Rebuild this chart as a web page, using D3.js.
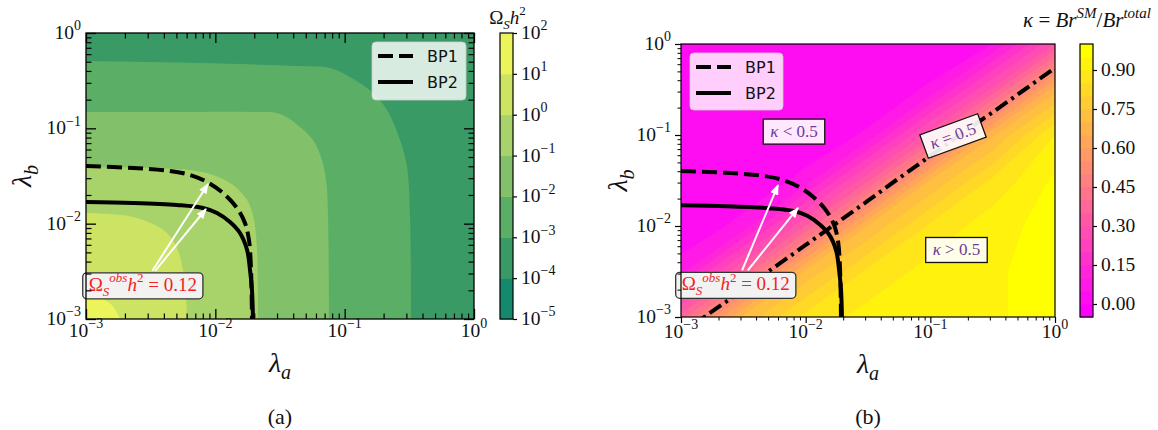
<!DOCTYPE html>
<html>
<head>
<meta charset="utf-8">
<script src="https://cdn.jsdelivr.net/npm/d3@7"></script>
<style>
  html, body { margin: 0; padding: 0; background: #ffffff; }
  svg { display: block; }
  text { font-family: "Liberation Serif", "DejaVu Serif", serif; fill: #111; }
  .legend-text { font-family: "DejaVu Sans", sans-serif; fill: #111; }
</style>
</head>
<body>
<svg id="figure" width="1158" height="430"></svg>
<script>
// ---------------- data ----------------
// coupling axes (both panels)
const lambdaTicks = [1e-3, 1e-2, 1e-1, 1e0];
const lambdaTickExponents = ["\u22123", "\u22122", "\u22121", "0"];
const lambdaMinorTicks = lambdaTicks.slice(0, -1).flatMap(d => [2, 3, 4, 5, 6, 7, 8, 9].map(k => k * d));

// (a) relic density Omega_S h^2: filled contour levels and band colours
const omegaLevels = [1e-5, 1e-4, 1e-3, 1e-2, 1e-1, 1e0, 1e1, 1e2];
const omegaLevelExponents = ["\u22125", "\u22124", "\u22123", "\u22122", "\u22121", "0", "1", "2"];
const omegaBandColors = ["#14896b", "#3a9a66", "#5bae66", "#82c16a", "#a8d36a", "#cde364", "#ecf45c"];

// iso-lines Omega_S h^2 = level, as [lambda_a, lambda_b] from the left edge to the bottom edge
const omegaIso1e_3 = [[0.001, 0.5085], [0.0076, 0.4844], [0.0452, 0.4508], [0.077, 0.4295], [0.110, 0.3454],
  [0.1656, 0.2349], [0.2124, 0.1556], [0.268, 0.0755], [0.3034, 0.0393], [0.320, 0.0123], [0.326, 0.001]];
const omegaIso1e_2 = [[0.001, 0.1484], [0.0076, 0.1484], [0.0185, 0.148], [0.0316, 0.1413], [0.0452, 0.1033],
  [0.0569, 0.0755], [0.0656, 0.050], [0.0718, 0.0287], [0.0743, 0.0123], [0.0757, 0.001]];
const omegaIso1e_1 = [[0.001, 0.0393], [0.00313, 0.0384], [0.00637, 0.0365], [0.0096, 0.0324], [0.0137, 0.0255],
  [0.0176, 0.0177], [0.0199, 0.0109], [0.0210, 0.0053], [0.0214, 0.001]];
const omegaIso1e0 = [[0.001, 0.01294], [0.00153, 0.0126], [0.00231, 0.01175], [0.0033, 0.0099], [0.00423, 0.00798],
  [0.00506, 0.00556], [0.00562, 0.00327], [0.00593, 0.00179], [0.00604, 0.001]];
const omegaIso1e1 = [[0.001, 0.0017], [0.00128, 0.00166], [0.00153, 0.00147], [0.00174, 0.00116], [0.00183, 0.001]];

// benchmark curves Omega_S h^2 = 0.12
const bp1Curve = [[0.001, 0.0403], [0.00231, 0.0384], [0.00446, 0.0357], [0.00637, 0.0324], [0.00862, 0.0274],
  [0.01146, 0.0210], [0.01471, 0.0146], [0.01695, 0.01016], [0.0182, 0.00674], [0.01888, 0.00327], [0.0192, 0.001]];
const bp2Curve = [[0.001, 0.01687], [0.00231, 0.0165], [0.00505, 0.0157], [0.00803, 0.0146], [0.0103, 0.01294],
  [0.01298, 0.0104], [0.0155, 0.00798], [0.0176, 0.0053], [0.01854, 0.00327], [0.0192, 0.00201], [0.01955, 0.001]];

// (b) kappa = Br^SM / Br^total on a grid (rows: lambda_b from 1 down to 1e-3)
const kappaLambdaA = [0.001, 0.00316, 0.01, 0.0316, 0.1, 0.316, 1];
const kappaLambdaB = [1, 0.316, 0.1, 0.0316, 0.01, 0.00316, 0.001];
const kappaGrid = [
  [0.00, 0.00, 0.00, 0.00, 0.00, 0.05, 0.30],
  [0.00, 0.00, 0.00, 0.00, 0.06, 0.31, 0.68],
  [0.00, 0.00, 0.00, 0.06, 0.33, 0.69, 0.90],
  [0.00, 0.00, 0.07, 0.34, 0.70, 0.86, 0.96],
  [0.00, 0.07, 0.35, 0.70, 0.86, 0.93, 0.97],
  [0.08, 0.36, 0.71, 0.86, 0.92, 0.94, 0.98],
  [0.375, 0.71, 0.865, 0.92, 0.92, 0.94, 0.98]
];
const kappaLevels = [-0.05, 0, 0.05, 0.1, 0.15, 0.2, 0.25, 0.3, 0.35, 0.4, 0.45, 0.5,
  0.55, 0.6, 0.65, 0.7, 0.75, 0.8, 0.85, 0.9, 0.95, 1.0];
const kappaTicks = [0, 0.15, 0.30, 0.45, 0.60, 0.75, 0.90];
const kappaBoundary = 0.5;

// ---------------- layout ----------------
const panelA = { x0: 86, x1: 474, y0: 33, y1: 319 };
const panelB = { x0: 681, x1: 1055, y0: 44, y1: 317 };
const cbarA = { x0: 500, x1: 513, y0: 33, y1: 319 };
const cbarB = { x0: 1080, x1: 1093, y0: 44, y1: 317 };
const tickFont = 19.5;

const svg = d3.select("#figure");
const defs = svg.append("defs");

function addClip(id, p) {
  defs.append("clipPath").attr("id", id).append("rect")
    .attr("x", p.x0).attr("y", p.y0).attr("width", p.x1 - p.x0).attr("height", p.y1 - p.y0);
}
addClip("clipA", panelA);
addClip("clipB", panelB);

defs.append("marker").attr("id", "arrowHead")
  .attr("viewBox", "0 0 10 8").attr("refX", 9).attr("refY", 4)
  .attr("markerWidth", 11).attr("markerHeight", 8.5)
  .attr("markerUnits", "userSpaceOnUse").attr("orient", "auto")
  .append("path").attr("d", "M0,0L10,4L0,8Z").attr("fill", "#fff");

// text with sub/superscript runs: parts = [[string, "n"|"sub"|"sup", italic]]
function richText(sel, parts, size) {
  let shift = 0;
  parts.forEach(([str, kind, italic]) => {
    const target = kind === "sup" ? -0.45 * size : kind === "sub" ? 0.25 * size : 0;
    sel.append("tspan")
      .attr("dy", (target - shift).toFixed(2))
      .attr("font-size", kind === "n" ? size : Math.round(size * 0.7))
      .attr("font-style", italic ? "italic" : "normal")
      .text(str);
    shift = target;
  });
  return sel;
}

function tickMarks(g, scale, orient, values, len, width) {
  const make = { top: d3.axisTop, bottom: d3.axisBottom, left: d3.axisLeft, right: d3.axisRight }[orient];
  const a = g.append("g").call(make(scale).tickValues(values).tickSize(len).tickFormat(""));
  a.select(".domain").remove();
  a.selectAll("text").remove();
  a.selectAll("line").attr("stroke", "#000").attr("stroke-width", width);
  return a;
}

function powerLabel(g, x, y, exp, anchor) {
  const t = g.append("text").attr("x", x).attr("y", y).attr("text-anchor", anchor).attr("font-size", tickFont);
  richText(t, [["10", "n"], [exp, "sup"]], tickFont);
}

const curveLine = (xs, ys) => d3.line().x(d => xs(d[0])).y(d => ys(d[1])).curve(d3.curveCatmullRom.alpha(0.5));

function drawBenchmarks(g, xs, ys) {
  const ln = curveLine(xs, ys);
  g.append("path").attr("d", ln(bp1Curve)).attr("fill", "none").attr("stroke", "#000")
    .attr("stroke-width", 4).attr("stroke-dasharray", "15,6");
  g.append("path").attr("d", ln(bp2Curve)).attr("fill", "none").attr("stroke", "#000")
    .attr("stroke-width", 4);
}

function drawLegend(g, box) {
  g.append("rect").attr("x", box.x).attr("y", box.y).attr("width", box.w).attr("height", box.h)
    .attr("rx", 4).attr("fill", "#fff").attr("fill-opacity", 0.8)
    .attr("stroke", "#ccc").attr("stroke-opacity", 0.8).attr("stroke-width", 1);
  const entries = [["BP1", "15,6"], ["BP2", null]];
  entries.forEach(([name, dash], i) => {
    const yLine = box.y + 14 + i * 26;
    const l = g.append("line").attr("x1", box.x + 6).attr("x2", box.x + 41)
      .attr("y1", yLine).attr("y2", yLine).attr("stroke", "#000").attr("stroke-width", 4);
    if (dash) l.attr("stroke-dasharray", dash);
    g.append("text").attr("class", "legend-text").attr("x", box.x + 55).attr("y", yLine + 6)
      .attr("font-size", 16).text(name);
  });
}

// annotation box with two arrows pointing at the benchmark curves
function drawRelicNote(g, xs, ys, centre, tips) {
  const cx = xs(centre[0]), cy = ys(centre[1]);
  const note = g.append("g");
  const box = note.append("rect");
  const t = note.append("text").attr("x", cx).attr("y", cy + 5).attr("text-anchor", "middle")
    .attr("font-size", 19).style("fill", "#f22222");
  richText(t, [["\u03a9", "n"], ["S", "sub", true], ["obs", "sup", true], ["h", "n", true],
    ["2", "sup"], [" = 0.12", "n"]], 19);
  t.selectAll("tspan").style("fill", "#f22222");
  const bb = t.node().getBBox();
  const bw = bb.width + 12, bh = 26;
  box.attr("x", cx - bw / 2).attr("y", cy - bh / 2).attr("width", bw).attr("height", bh)
    .attr("rx", 4).attr("fill", "#f2f2f2").attr("stroke", "#333").attr("stroke-width", 1.3);
  tips.forEach(tp => {
    const tx = xs(tp[0]), ty = ys(tp[1]);
    const dx = tx - cx, dy = ty - cy;
    const s = Math.min(Math.abs((bh / 2 + 2) / dy), Math.abs((bw / 2 + 2) / dx));
    note.append("line").attr("x1", cx + dx * s).attr("y1", cy + dy * s).attr("x2", tx).attr("y2", ty)
      .attr("stroke", "#fff").attr("stroke-width", 2).attr("marker-end", "url(#arrowHead)");
  });
}

// ================= panel (a) =================
const xa = d3.scaleLog().domain([1e-3, 1]).range([panelA.x0, panelA.x1]);
const ya = d3.scaleLog().domain([1e-3, 1]).range([panelA.y1, panelA.y0]);
const gA = svg.append("g");
const plotA = gA.append("g").attr("clip-path", "url(#clipA)");

plotA.append("rect").attr("x", panelA.x0).attr("y", panelA.y0)
  .attr("width", panelA.x1 - panelA.x0).attr("height", panelA.y1 - panelA.y0)
  .attr("fill", omegaBandColors[1]);
[omegaIso1e_3, omegaIso1e_2, omegaIso1e_1, omegaIso1e0, omegaIso1e1].forEach((iso, i) => {
  const d = curveLine(xa, ya)(iso) + `L${xa(1e-3) - 2},${ya(1e-3) + 2}Z`;
  plotA.append("path").attr("d", d).attr("fill", omegaBandColors[i + 2]);
});
drawBenchmarks(plotA, xa, ya);

drawRelicNote(gA, xa, ya, [0.00275, 0.00223], [[0.00878, 0.0261], [0.00847, 0.01425]]);
drawLegend(gA, { x: 372, y: 42, w: 94, h: 58 });

// inward ticks on all four sides
[["bottom", `translate(0,${panelA.y1})`, xa], ["top", `translate(0,${panelA.y0})`, xa],
 ["left", `translate(${panelA.x0},0)`, ya], ["right", `translate(${panelA.x1},0)`, ya]].forEach(([o, tr, sc]) => {
  const g = gA.append("g").attr("transform", tr);
  tickMarks(g, sc, o, lambdaMinorTicks, -5.5, 1.2);
  tickMarks(g, sc, o, lambdaTicks, -10, 1.3);
});
gA.append("rect").attr("x", panelA.x0).attr("y", panelA.y0)
  .attr("width", panelA.x1 - panelA.x0).attr("height", panelA.y1 - panelA.y0)
  .attr("fill", "none").attr("stroke", "#000").attr("stroke-width", 1.3);

lambdaTicks.forEach((v, i) => {
  powerLabel(gA, xa(v), 337, lambdaTickExponents[i], "middle");
  powerLabel(gA, panelA.x0 - 5, ya(v) + 6, lambdaTickExponents[i], "end");
});
richText(gA.append("text").attr("x", (panelA.x0 + panelA.x1) / 2).attr("y", 372).attr("text-anchor", "middle"),
  [["\u03bb", "n", true], ["a", "sub", true]], 28);
richText(gA.append("text").attr("transform", `translate(31,${(panelA.y0 + panelA.y1) / 2}) rotate(-90)`)
  .attr("text-anchor", "middle"), [["\u03bb", "n", true], ["b", "sub", true]], 28);
gA.append("text").attr("x", (panelA.x0 + panelA.x1) / 2).attr("y", 424).attr("text-anchor", "middle")
  .attr("font-size", 22).text("(a)");

// colorbar (a)
const cA = d3.scaleLog().domain([1e-5, 1e2]).range([cbarA.y1, cbarA.y0]);
omegaBandColors.forEach((c, i) => {
  gA.append("rect").attr("x", cbarA.x0).attr("y", cA(omegaLevels[i + 1]))
    .attr("width", cbarA.x1 - cbarA.x0).attr("height", cA(omegaLevels[i]) - cA(omegaLevels[i + 1]) + 0.5)
    .attr("fill", c);
});
gA.append("rect").attr("x", cbarA.x0).attr("y", cbarA.y0).attr("width", cbarA.x1 - cbarA.x0)
  .attr("height", cbarA.y1 - cbarA.y0).attr("fill", "none").attr("stroke", "#000").attr("stroke-width", 1.2);
tickMarks(gA.append("g").attr("transform", `translate(${cbarA.x1},0)`), cA, "right", omegaLevels, 4, 1.2);
omegaLevels.forEach((v, i) => powerLabel(gA, cbarA.x1 + 8, cA(v) + 6, omegaLevelExponents[i], "start"));
richText(gA.append("text").attr("x", (cbarA.x0 + cbarA.x1) / 2 + 1).attr("y", 24).attr("text-anchor", "middle"),
  [["\u03a9", "n"], ["S", "sub", true], ["h", "n", true], ["2", "sup"]], 19);

// ================= panel (b) =================
const xb = d3.scaleLog().domain([1e-3, 1]).range([panelB.x0, panelB.x1]);
const yb = d3.scaleLog().domain([1e-3, 1]).range([panelB.y1, panelB.y0]);
const gB = svg.append("g");
const plotB = gB.append("g").attr("clip-path", "url(#clipB)");

const nx = kappaLambdaA.length, ny = kappaLambdaB.length;
const gridX = d3.scaleLinear().domain([0.5, nx - 0.5]).range([xb(kappaLambdaA[0]), xb(kappaLambdaA[nx - 1])]);
const gridY = d3.scaleLinear().domain([0.5, ny - 0.5]).range([yb(kappaLambdaB[0]), yb(kappaLambdaB[ny - 1])]);
const gridPath = d3.geoPath(d3.geoTransform({ point(x, y) { this.stream.point(gridX(x), gridY(y)); } }));
const springColor = t => d3.interpolateRgb("#ff00ff", "#ffff00")(t);
const nBands = kappaLevels.length - 1;
const kappaColors = d3.range(nBands).map(i => springColor(i / (nBands - 1)));

const kappaFlat = kappaGrid.flat();
const kappaFill = d3.contours().size([nx, ny]).thresholds(kappaLevels.slice(0, -1))(kappaFlat);
plotB.selectAll("path.band").data(kappaFill).join("path").attr("class", "band")
  .attr("d", gridPath).attr("fill", (d, i) => kappaColors[i])
  .attr("stroke", (d, i) => kappaColors[i]).attr("stroke-width", 0.6);

const kappaHalf = d3.contours().size([nx, ny]).thresholds([kappaBoundary])(kappaFlat);
plotB.append("path").attr("d", gridPath(kappaHalf[0])).attr("fill", "none").attr("stroke", "#000")
  .attr("stroke-width", 4).attr("stroke-dasharray", "14,5,3,5");
drawBenchmarks(plotB, xb, yb);

// region labels
function kappaTag(g, x, y, parts, angle) {
  const tg = g.append("g").attr("transform", `translate(${x},${y}) rotate(${angle})`);
  const box = tg.append("rect");
  const t = tg.append("text").attr("x", 0).attr("y", 5.5).attr("text-anchor", "middle").attr("font-size", 17);
  richText(t, parts, 17);
  t.selectAll("tspan").style("fill", "#6a3d9a");
  const bb = t.node().getBBox();
  box.attr("x", -bb.width / 2 - 7).attr("y", -12.5).attr("width", bb.width + 14)
    .attr("height", 25).attr("fill", "#fff").attr("fill-opacity", 0.9)
    .attr("stroke", "#111").attr("stroke-width", 1.3);
}
kappaTag(gB, xb(0.00806), yb(0.109), [["\u03ba", "n", true], [" < 0.5", "n"]], 0);
kappaTag(gB, xb(0.162), yb(0.00545), [["\u03ba", "n", true], [" > 0.5", "n"]], 0);
kappaTag(gB, xb(0.152), yb(0.0975), [["\u03ba", "n", true], [" = 0.5", "n"]], -20);

drawRelicNote(gB, xb, yb, [0.00275, 0.00223], [[0.006, 0.0282], [0.00868, 0.01577]]);
drawLegend(gB, { x: 690, y: 53, w: 93, h: 57 });

// outward ticks on left and bottom
const gBx = gB.append("g").attr("transform", `translate(0,${panelB.y1})`);
tickMarks(gBx, xb, "bottom", lambdaMinorTicks, 3.5, 1);
tickMarks(gBx, xb, "bottom", lambdaTicks, 6, 1.2);
const gBy = gB.append("g").attr("transform", `translate(${panelB.x0},0)`);
tickMarks(gBy, yb, "left", lambdaMinorTicks, 3.5, 1);
tickMarks(gBy, yb, "left", lambdaTicks, 6, 1.2);
gB.append("rect").attr("x", panelB.x0).attr("y", panelB.y0)
  .attr("width", panelB.x1 - panelB.x0).attr("height", panelB.y1 - panelB.y0)
  .attr("fill", "none").attr("stroke", "#000").attr("stroke-width", 1.2);

lambdaTicks.forEach((v, i) => {
  powerLabel(gB, xb(v), 338, lambdaTickExponents[i], "middle");
  powerLabel(gB, panelB.x0 - 10, yb(v) + 6, lambdaTickExponents[i], "end");
});
richText(gB.append("text").attr("x", (panelB.x0 + panelB.x1) / 2).attr("y", 373).attr("text-anchor", "middle"),
  [["\u03bb", "n", true], ["a", "sub", true]], 28);
richText(gB.append("text").attr("transform", `translate(627,${(panelB.y0 + panelB.y1) / 2}) rotate(-90)`)
  .attr("text-anchor", "middle"), [["\u03bb", "n", true], ["b", "sub", true]], 28);
gB.append("text").attr("x", (panelB.x0 + panelB.x1) / 2).attr("y", 424).attr("text-anchor", "middle")
  .attr("font-size", 22).text("(b)");

// colorbar (b)
const cB = d3.scaleLinear().domain([kappaLevels[0], kappaLevels[kappaLevels.length - 1]]).range([cbarB.y1, cbarB.y0]);
kappaColors.forEach((c, i) => {
  gB.append("rect").attr("x", cbarB.x0).attr("y", cB(kappaLevels[i + 1]))
    .attr("width", cbarB.x1 - cbarB.x0).attr("height", cB(kappaLevels[i]) - cB(kappaLevels[i + 1]) + 0.5)
    .attr("fill", c);
});
gB.append("rect").attr("x", cbarB.x0).attr("y", cbarB.y0).attr("width", cbarB.x1 - cbarB.x0)
  .attr("height", cbarB.y1 - cbarB.y0).attr("fill", "none").attr("stroke", "#000").attr("stroke-width", 1.2);
tickMarks(gB.append("g").attr("transform", `translate(${cbarB.x1},0)`), cB, "right", kappaTicks, 4, 1.2);
kappaTicks.forEach(v => {
  gB.append("text").attr("x", cbarB.x1 + 8).attr("y", cB(v) + 6).attr("font-size", tickFont).text(d3.format(".2f")(v));
});
richText(gB.append("text").attr("x", 1087).attr("y", 27).attr("text-anchor", "middle"),
  [["\u03ba", "n", true], [" = ", "n"], ["Br", "n", true], ["SM", "sup", true], ["/", "n"],
   ["Br", "n", true], ["total", "sup", true]], 21);
</script>
</body>
</html>
